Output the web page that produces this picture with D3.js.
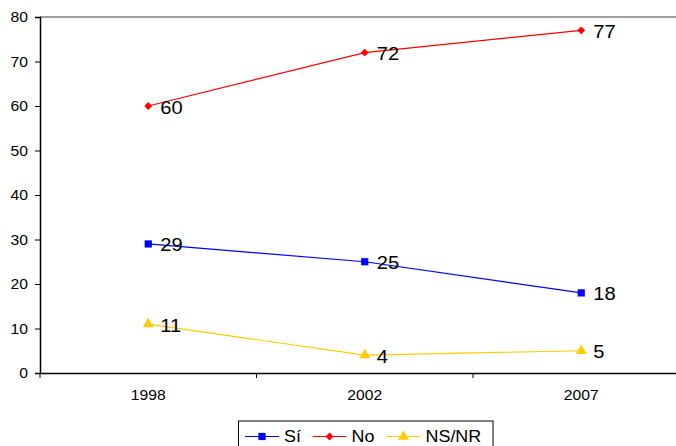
<!DOCTYPE html>
<html><head><meta charset="utf-8">
<script src="https://cdn.jsdelivr.net/npm/d3@7"></script>
<style>body{margin:0;background:#fff}svg{display:block;font-family:"Liberation Sans",Arial,sans-serif}</style>
</head><body>
<svg id="c" width="676" height="446"></svg>
<script>
const categories = ["1998", "2002", "2007"];
const si = [29, 25, 18];
const no = [60, 72, 77];
const nsnr = [11, 4, 5];
const yTicks = [0, 10, 20, 30, 40, 50, 60, 70, 80];
const seriesNames = ["Sí", "No", "NS/NR"];

const series = [
  {name: seriesNames[0], values: si, color: "#0000FF", marker: "square"},
  {name: seriesNames[1], values: no, color: "#FF0000", marker: "diamond"},
  {name: seriesNames[2], values: nsnr, color: "#FFCC00", marker: "triangle"}
];

const FONT = '"Liberation Sans",Arial,sans-serif';
const STRETCH = 1.12;
function stretch(sel) {
  sel.each(function() {
    const len = this.getComputedTextLength();
    d3.select(this).attr("textLength", len * STRETCH).attr("lengthAdjust", "spacingAndGlyphs");
  });
}

const svg = d3.select("#c");
const mL = 40, mR = 689.5, mT = 17, mB = 373;
const x = d3.scaleBand().domain(categories).range([mL, mR]);
const y = d3.scaleLinear().domain([0, 80]).range([mB, mT]);

// top border
svg.append("line").attr("x1", mL).attr("x2", 676).attr("y1", mT).attr("y2", mT)
  .attr("stroke", "#808080").attr("stroke-width", 1.5);

// y axis
const ya = svg.append("g").attr("transform", `translate(${mL},0)`)
  .call(d3.axisLeft(y).tickValues(yTicks).tickSize(5).tickPadding(7));
ya.attr("font-size", null).attr("font-family", null);
ya.select(".domain").attr("stroke", "#000").attr("stroke-width", 1.5);
ya.selectAll(".tick line").attr("stroke", "#000");
ya.selectAll("text").style("font-size", "14px").style("font-family", FONT).attr("fill", "#000")
  .attr("dy", "0.35em").call(stretch);

// x axis
const xa = svg.append("g").attr("transform", `translate(0,${mB})`)
  .call(d3.axisBottom(x).tickSize(0));
xa.attr("font-size", null).attr("font-family", null);
xa.select(".domain").attr("stroke", "#000").attr("stroke-width", 1.5);
xa.selectAll("text").style("font-size", "14px").style("font-family", FONT).attr("fill", "#000")
  .attr("y", 27).attr("dy", 0).call(stretch);
// boundary ticks
const bounds = categories.map(c => x(c)).concat([x(categories[categories.length-1]) + x.bandwidth()]);
svg.append("g").selectAll("line").data(bounds).join("line")
  .attr("x1", d => d).attr("x2", d => d).attr("y1", mB).attr("y2", mB + 5)
  .attr("stroke", "#000");

const cx = c => x(c) + x.bandwidth() / 2;
const diamond = {draw(ctx, size) { const r = Math.sqrt(size) / 2 * 1.1; ctx.moveTo(0, -r); ctx.lineTo(r, 0); ctx.lineTo(0, r); ctx.lineTo(-r, 0); ctx.closePath(); }};
const sym = {
  square: d3.symbol().type(d3.symbolSquare).size(52),
  diamond: d3.symbol().type(diamond).size(52),
  triangle: d3.symbol().type(d3.symbolTriangle).size(52)
};

series.forEach(s => {
  const pts = s.values.map((v, i) => [cx(categories[i]), y(v)]);
  svg.append("path").attr("d", d3.line()(pts)).attr("fill", "none")
    .attr("stroke", s.color).attr("stroke-width", 1.2);
  svg.append("g").selectAll("path").data(pts).join("path")
    .attr("d", sym[s.marker]).attr("transform", d => `translate(${d[0]},${d[1]})`)
    .attr("fill", s.color);
  svg.append("g").selectAll("text").data(s.values).join("text")
    .attr("x", (v, i) => cx(categories[i]) + 12).attr("y", v => y(v) + 7.5)
    .style("font-size", "18px").attr("fill", "#000").text(v => v).call(stretch);
});

// legend
const lg = svg.append("g");
lg.append("rect").attr("x", 238.5).attr("y", 421).attr("width", 254.5).attr("height", 30)
  .attr("fill", "#fff").attr("stroke", "#000").attr("stroke-width", 1);
const legX = [245, 312.5, 386.5];
series.forEach((s, i) => {
  const gx = legX[i], gy = 436.5;
  lg.append("line").attr("x1", gx).attr("x2", gx + 34).attr("y1", gy).attr("y2", gy)
    .attr("stroke", s.color).attr("stroke-width", 1.2);
  lg.append("path").attr("d", sym[s.marker]).attr("transform", `translate(${gx + 17},${gy})`)
    .attr("fill", s.color);
  lg.append("text").attr("x", gx + 39).attr("y", gy + 5.8).style("font-size", "16px")
    .attr("fill", "#000").text(s.name).call(stretch);
});
</script>
</body></html>
